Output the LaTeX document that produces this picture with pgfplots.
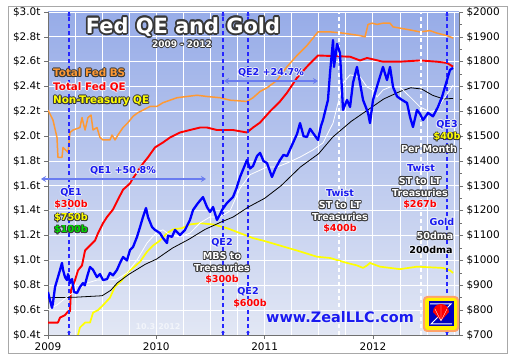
\documentclass[border=0pt]{standalone}
\usepackage{pgfplots}
\pgfplotsset{compat=1.18}
\usetikzlibrary{arrows.meta}
\usepackage{fontspec}
\setmainfont{DejaVu Sans}
\definecolor{bsorange}{HTML}{FF9933}
\definecolor{qered}{HTML}{FF0000}
\definecolor{ntyellow}{HTML}{FFFF00}
\definecolor{goldblue}{HTML}{0000FF}
\definecolor{lblue}{HTML}{1A1AF0}
\definecolor{arrowblue}{HTML}{6A7CF0}
\definecolor{bgtop}{HTML}{97ACE8}
\definecolor{bgbot}{HTML}{E2E7F4}
\definecolor{oline}{HTML}{383838}
\definecolor{halo}{HTML}{E8ECF8}
\definecolor{qgreen}{HTML}{00DD00}
\definecolor{framegray}{HTML}{A8A8A8}
\definecolor{axgray}{HTML}{707070}

% outlined text: [radius]{x}{y}{outline colour}{text colour}{node options}{text}
\newcommand{\otxt}[7][0.9]{%
  \foreach \a in {0,45,...,315}{\node[inner sep=0pt,#6,text=#4,xshift={#1*cos(\a)},yshift={#1*sin(\a)}] at (#2,#3) {#7};}%
  \node[inner sep=0pt,#6,text=#5] at (#2,#3) {#7};}
\newcommand{\otxtb}[7][0.9]{%
  \foreach \a in {0,30,...,330}{\node[inner sep=0pt,#6,text=#4,xshift={#1*cos(\a)},yshift={#1*sin(\a)}] at (#2,#3) {#7};}%
  \node[inner sep=0pt,#6,text=#5] at (#2,#3) {#7};}
\newcommand{\fa}{\bfseries\fontsize{9.6}{11}\selectfont}
\newcommand{\fb}{\bfseries\fontsize{10.4}{12}\selectfont}

\begin{document}
\begin{tikzpicture}
\useasboundingbox (0,0) rectangle (509bp,360bp);
\fill[white] (0,0) rectangle (509bp,360bp);
\draw[framegray, line width=0.8bp] (8bp,6.5bp) rectangle (507bp,354bp);

\begin{axis}[at={(48bp,25bp)}, anchor=south west, scale only axis,
  width=411bp, height=323bp,
  xmin=2009, xmax=2012.795, ymin=0.4, ymax=3.0,
  axis x line*=bottom, axis y line*=left,
  axis line style={axgray, line width=0.8pt},
  xtick={2009,2010,2011,2012}, xticklabels={2009,2010,2011,2012},
  minor xtick={2009.25,2009.5,2009.75,2010.25,2010.5,2010.75,2011.25,2011.5,2011.75,2012.25,2012.5,2012.75},
  ytick={0.4,0.6,0.8,1.0,1.2,1.4,1.6,1.8,2.0,2.2,2.4,2.6,2.8,3.0},
  yticklabels={\$0.4t,\$0.6t,\$0.8t,\$1.0t,\$1.2t,\$1.4t,\$1.6t,\$1.8t,\$2.0t,\$2.2t,\$2.4t,\$2.6t,\$2.8t,\$3.0t},
  tick align=outside, major tick length=4bp, minor tick length=0pt,
  tick style={axgray, line width=0.6pt},
  grid=both, major grid style={white, line width=0.9pt}, minor grid style={white, line width=0.9pt},
  axis background/.style={top color=bgtop, bottom color=bgbot},
  ticklabel style={font=\fontsize{10.5}{12}\selectfont, text=black},
  /pgf/number format/assume math mode=true,
]
% Total Fed BS
\addplot[bsorange, line width=1.5pt, line join=round] coordinates {
(2009.000,2.21) (2009.018,2.18) (2009.046,2.13) (2009.083,1.99) (2009.092,1.83) (2009.129,1.83)
(2009.139,1.91) (2009.185,1.87) (2009.203,2.03) (2009.231,2.05) (2009.295,2.07) (2009.314,2.15)
(2009.342,2.05) (2009.369,2.15) (2009.397,2.17) (2009.416,2.05) (2009.452,2.07) (2009.480,1.99)
(2009.508,1.97) (2009.572,1.97) (2009.591,2.01) (2009.619,1.97) (2009.646,2.01) (2009.693,2.07)
(2009.739,2.11) (2009.785,2.16) (2009.831,2.19) (2009.877,2.21) (2009.942,2.24) (2010.006,2.24)
(2010.062,2.27) (2010.127,2.29) (2010.191,2.31) (2010.283,2.32) (2010.376,2.33) (2010.468,2.32)
(2010.588,2.31) (2010.681,2.29) (2010.837,2.28) (2010.893,2.31) (2010.958,2.36) (2011.022,2.39)
(2011.115,2.45) (2011.207,2.56) (2011.299,2.65) (2011.391,2.73) (2011.447,2.79) (2011.493,2.84)
(2011.604,2.84) (2011.724,2.83) (2011.881,2.81) (2011.927,2.80) (2011.955,2.90) (2011.992,2.91)
(2012.038,2.90) (2012.093,2.91) (2012.158,2.91) (2012.186,2.88) (2012.315,2.86) (2012.435,2.84)
(2012.527,2.85) (2012.592,2.83) (2012.684,2.81) (2012.740,2.79)};
% Total Fed QE
\addplot[qered, line width=1.9pt, line join=round] coordinates {
(2009.000,0.50) (2009.092,0.50) (2009.111,0.54) (2009.157,0.56) (2009.185,0.59) (2009.203,0.59)
(2009.212,0.76) (2009.249,0.84) (2009.277,0.92) (2009.314,0.96) (2009.342,1.08) (2009.388,1.12)
(2009.434,1.16) (2009.462,1.22) (2009.508,1.30) (2009.545,1.35) (2009.600,1.41) (2009.646,1.49)
(2009.693,1.57) (2009.757,1.62) (2009.776,1.65) (2009.877,1.78) (2009.923,1.83) (2009.988,1.91)
(2010.062,1.95) (2010.127,1.99) (2010.219,2.03) (2010.311,2.05) (2010.404,2.07) (2010.468,2.07)
(2010.560,2.05) (2010.708,2.05) (2010.837,2.03) (2010.893,2.07) (2010.958,2.11) (2011.050,2.20)
(2011.142,2.28) (2011.207,2.35) (2011.299,2.47) (2011.391,2.56) (2011.447,2.61) (2011.493,2.65)
(2011.789,2.64) (2011.881,2.61) (2011.946,2.63) (2012.093,2.60) (2012.250,2.60) (2012.435,2.61)
(2012.592,2.60) (2012.684,2.59) (2012.740,2.56)};
% Non-Treasury QE
\addplot[ntyellow, line width=1.7pt, line join=round] coordinates {
(2009.277,0.40) (2009.295,0.46) (2009.342,0.50) (2009.388,0.50) (2009.416,0.58) (2009.462,0.60)
(2009.508,0.64) (2009.572,0.70) (2009.619,0.79) (2009.683,0.84) (2009.729,0.90) (2009.785,0.94)
(2009.850,0.99) (2009.914,1.07) (2009.970,1.12) (2010.034,1.16) (2010.099,1.22) (2010.154,1.25)
(2010.237,1.26) (2010.311,1.29) (2010.404,1.30) (2010.524,1.29) (2010.653,1.26) (2010.773,1.22)
(2010.893,1.18) (2010.985,1.16) (2011.299,1.08) (2011.484,1.03) (2011.604,1.02) (2011.761,0.98)
(2011.853,0.96) (2011.909,0.94) (2011.946,0.96) (2011.973,0.98) (2012.066,0.95) (2012.250,0.93)
(2012.407,0.95) (2012.647,0.94) (2012.712,0.92) (2012.740,0.90)};
\end{axis}

\begin{axis}[at={(48bp,25bp)}, anchor=south west, scale only axis,
  width=411bp, height=323bp,
  xmin=2009, xmax=2012.795, ymin=700, ymax=2000,
  axis x line=none, axis y line*=right,
  axis line style={axgray, line width=0.8pt},
  ytick={700,800,900,1000,1100,1200,1300,1400,1500,1600,1700,1800,1900,2000},
  yticklabels={\$700,\$800,\$900,\$1000,\$1100,\$1200,\$1300,\$1400,\$1500,\$1600,\$1700,\$1800,\$1900,\$2000},
  minor y tick num=1,
  tick align=outside, major tick length=4bp, minor tick length=2.5bp,
  tick style={axgray, line width=0.6pt},
  ticklabel style={font=\fontsize{10.5}{12}\selectfont, text=black},
  /pgf/number format/assume math mode=true,
]
% event lines
\addplot[white, line width=1.2pt, dash pattern=on 4pt off 3pt] coordinates {(2011.687,700) (2011.687,2000)};
\addplot[white, line width=1.2pt, dash pattern=on 4pt off 3pt] coordinates {(2012.444,700) (2012.444,2000)};
\addplot[goldblue!85!white, line width=1.2pt, dash pattern=on 4pt off 3pt] coordinates {(2009.194,700) (2009.194,2000)};
\addplot[goldblue!85!white, line width=1.2pt, dash pattern=on 4pt off 3pt] coordinates {(2010.616,700) (2010.616,2000)};
\addplot[goldblue!85!white, line width=1.2pt, dash pattern=on 4pt off 3pt] coordinates {(2010.847,700) (2010.847,2000)};
\addplot[goldblue!85!white, line width=1.2pt, dash pattern=on 4pt off 3pt] coordinates {(2012.684,700) (2012.684,2000)};
\addplot[only marks, mark=*, mark size=1.3pt, goldblue!85!white] coordinates {
(2009.194,1988) (2009.194,711) (2010.616,1988) (2010.616,711) (2010.847,1988) (2010.847,711) (2012.684,1988) (2012.684,711)};
% 200dma
\addplot[black, line width=0.8pt] coordinates {
(2009.000,850) (2009.250,852) (2009.500,858) (2009.580,880) (2009.640,910) (2009.750,945)
(2009.900,985) (2010.000,1005) (2010.150,1050) (2010.300,1085) (2010.450,1125) (2010.600,1155)
(2010.710,1175) (2010.850,1215) (2011.000,1250) (2011.150,1300) (2011.330,1376) (2011.500,1430)
(2011.630,1497) (2011.800,1560) (2011.950,1605) (2012.100,1650) (2012.250,1680) (2012.350,1695)
(2012.450,1690) (2012.550,1665) (2012.650,1650) (2012.740,1652)};
% 50dma
\addplot[white, line width=0.8pt] coordinates {
(2009.000,801) (2009.083,821) (2009.175,853) (2009.268,881) (2009.360,909) (2009.452,921)
(2009.545,921) (2009.637,925) (2009.729,950) (2009.822,1002) (2009.914,1070) (2010.006,1115)
(2010.062,1123) (2010.127,1102) (2010.219,1095) (2010.311,1110) (2010.404,1151) (2010.496,1175)
(2010.588,1175) (2010.681,1200) (2010.773,1290) (2010.865,1345) (2011.022,1376) (2011.115,1376)
(2011.207,1392) (2011.327,1416) (2011.447,1445) (2011.539,1473) (2011.632,1553) (2011.669,1618)
(2011.724,1714) (2011.789,1747) (2011.881,1739) (2011.946,1698) (2012.001,1686) (2012.038,1658)
(2012.093,1686) (2012.158,1698) (2012.250,1698) (2012.343,1658) (2012.435,1618) (2012.527,1598)
(2012.592,1606) (2012.647,1646) (2012.712,1686) (2012.740,1706)};
% Gold
\addplot[goldblue, line width=2.3pt, line join=round] coordinates {
(2009.000,873) (2009.018,841) (2009.037,809) (2009.046,830) (2009.065,893) (2009.092,933)
(2009.110,960) (2009.129,990) (2009.139,962) (2009.157,933) (2009.175,921) (2009.185,945)
(2009.203,909) (2009.222,925) (2009.240,873) (2009.268,869) (2009.295,893) (2009.323,909)
(2009.340,900) (2009.360,933) (2009.388,974) (2009.416,962) (2009.452,933) (2009.480,945)
(2009.508,921) (2009.545,925) (2009.572,950) (2009.600,940) (2009.637,962) (2009.665,990)
(2009.693,1014) (2009.729,1000) (2009.757,1042) (2009.785,1054) (2009.822,1095) (2009.850,1135)
(2009.877,1175) (2009.905,1211) (2009.923,1175) (2009.960,1135) (2009.988,1123) (2010.034,1110)
(2010.062,1090) (2010.099,1070) (2010.108,1100) (2010.145,1095) (2010.173,1123) (2010.219,1102)
(2010.265,1123) (2010.311,1163) (2010.339,1203) (2010.385,1231) (2010.431,1255) (2010.468,1215)
(2010.496,1195) (2010.524,1215) (2010.560,1163) (2010.588,1185) (2010.607,1203) (2010.650,1230)
(2010.708,1255) (2010.740,1290) (2010.773,1336) (2010.837,1404) (2010.865,1370) (2010.893,1380)
(2010.930,1420) (2010.958,1433) (2010.990,1400) (2011.022,1392) (2011.068,1336) (2011.100,1370)
(2011.142,1404) (2011.175,1425) (2011.207,1420) (2011.262,1473) (2011.300,1510) (2011.327,1553)
(2011.360,1500) (2011.391,1497) (2011.420,1530) (2011.447,1513) (2011.493,1485) (2011.520,1540)
(2011.539,1565) (2011.585,1646) (2011.604,1755) (2011.632,1887) (2011.641,1779) (2011.669,1872)
(2011.696,1835) (2011.724,1606) (2011.761,1646) (2011.789,1618) (2011.816,1714) (2011.853,1779)
(2011.881,1714) (2011.909,1646) (2011.955,1594) (2011.973,1553) (2012.001,1646) (2012.047,1714)
(2012.093,1779) (2012.130,1726) (2012.158,1779) (2012.186,1698) (2012.223,1660) (2012.269,1646)
(2012.315,1634) (2012.343,1577) (2012.370,1537) (2012.407,1606) (2012.435,1590) (2012.463,1565)
(2012.509,1594) (2012.555,1580) (2012.601,1618) (2012.638,1658) (2012.684,1726) (2012.712,1767)
(2012.740,1775)};
\end{axis}

\begin{scope}[x=1bp,y=-1bp,yshift=360bp]
% arrows
\draw[arrowblue, line width=1.8pt, {Stealth[length=5bp,width=6bp]}-{Stealth[length=5bp,width=6bp]}] (41,179) -- (206,179);
\draw[arrowblue, line width=1.8pt, {Stealth[length=5bp,width=6bp]}-{Stealth[length=5bp,width=6bp]}] (224,81) -- (318,81);
% title
\otxtb[1.7]{183}{27}{oline}{white}{font=\bfseries\fontsize{21}{24}\selectfont}{Fed QE and Gold}
\otxt[1.0]{182}{44}{oline}{white}{font=\bfseries\fontsize{9}{10}\selectfont}{2009 - 2012}
% legend
\otxt[1.0]{53}{73}{oline}{bsorange}{font=\fb,anchor=west}{Total Fed BS}
\otxt[1.0]{53}{87}{halo}{qered}{font=\fb,anchor=west}{Total Fed QE}
\otxt[1.0]{53}{101}{oline}{ntyellow}{font=\fb,anchor=west}{Non-Treasury QE}
% QE annotations
\otxt[0.9]{123}{171}{halo}{lblue}{font=\fa}{QE1 +50.8\%}
\otxt[0.9]{271}{73}{halo}{lblue}{font=\fa}{QE2 +24.7\%}
\otxt[0.9]{71}{193}{halo}{lblue}{font=\fa}{QE1}
\otxt[0.9]{71}{205}{halo}{qered}{font=\fa}{\$300b}
\otxt[0.9]{71}{218}{oline}{ntyellow}{font=\fa}{\$750b}
\otxt[0.9]{71}{230}{oline}{qgreen}{font=\fa}{\$100b}
\otxt[0.9]{222}{243}{halo}{lblue}{font=\fa}{QE2}
\otxt[0.9]{222}{256}{oline}{white}{font=\fa}{MBS to}
\otxt[0.9]{222}{268}{oline}{white}{font=\fa}{Treasuries}
\otxt[0.9]{222}{280}{halo}{qered}{font=\fa}{\$300b}
\otxt[0.9]{248}{292}{halo}{lblue}{font=\fa}{QE2}
\otxt[0.9]{250}{304}{halo}{qered}{font=\fa}{\$600b}
\otxt[0.9]{340}{193}{halo}{lblue}{font=\fa}{Twist}
\otxt[0.9]{340}{205}{oline}{white}{font=\fa}{ST to LT}
\otxt[0.9]{340}{217}{oline}{white}{font=\fa}{Treasuries}
\otxt[0.9]{340}{229}{halo}{qered}{font=\fa}{\$400b}
\otxt[0.9]{421}{168}{halo}{lblue}{font=\fa}{Twist}
\otxt[0.9]{420}{181}{oline}{white}{font=\fa}{ST to LT}
\otxt[0.9]{420}{193}{oline}{white}{font=\fa}{Treasuries}
\otxt[0.9]{420}{205}{halo}{qered}{font=\fa}{\$267b}
\otxt[0.9]{447}{125}{halo}{lblue}{font=\fa}{QE3}
\otxt[0.9]{447}{137}{oline}{ntyellow}{font=\fa}{\$40b}
\otxt[0.9]{429}{149}{oline}{white}{font=\fa}{Per Month}
\otxt[0.9]{442}{222}{halo}{lblue}{font=\fa}{Gold}
\otxt[0.9]{435}{236}{oline}{white}{font=\fa}{50dma}
\otxt[0.9]{431}{250}{halo}{black}{font=\fa}{200dma}
% site
\otxt[0.9]{340}{317}{halo}{lblue}{font=\bfseries\fontsize{14.5}{16}\selectfont}{www.ZealLLC.com}
\node[text=white, opacity=0.6, font=\bfseries\fontsize{8}{9}\selectfont] at (158,327) {10.3.2012};
% logo
\fill[orange!45!pink, rounded corners=4bp] (423,296) rectangle (459,332);
\fill[yellow, rounded corners=3bp] (425,298) rectangle (457,330);
\fill[blue!75!black] (428.5,301.5) rectangle (453.5,326.5);
\draw[white, line width=1pt] (430,304) -- (451,304) -- (431,324) -- (452,324);
\fill[red] (441,321) -- (433,312) arc[start angle=180, end angle=360, radius=8] -- cycle;
\draw[white, line width=0.4pt] (441,321) -- (435,309) (441,321) -- (441,305) (441,321) -- (447,309);
\end{scope}
\end{tikzpicture}
\end{document}
